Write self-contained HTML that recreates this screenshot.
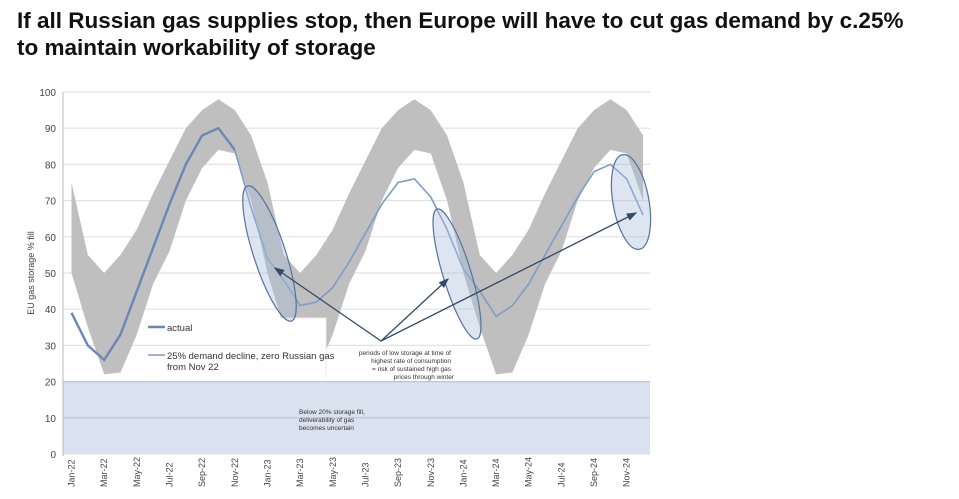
<!DOCTYPE html>
<html><head><meta charset="utf-8"><style>
body{margin:0;background:#fff;width:959px;height:499px;overflow:hidden;font-family:"Liberation Sans",sans-serif}
h1{position:absolute;left:17px;top:7px;margin:0;font-size:22.5px;line-height:27px;font-weight:bold;color:#111;white-space:nowrap}
svg{position:absolute;left:0;top:0}
</style></head><body>
<h1>If all Russian gas supplies stop, then Europe will have to cut gas demand by c.25%<br>to maintain workability of storage</h1>
<svg id="s" width="959" height="499" xmlns="http://www.w3.org/2000/svg" font-family="Liberation Sans, sans-serif"></svg>
<script>
const X=i=>71.5+16.33*i, Y=v=>454-3.62*v;
const up=[75,55,50,55,62,72,81,90,95,98,95,88];
const lo=[50,35,22,22.5,33,47,56,70,79,84,83,70];
let U=[],L=[];for(let i=0;i<36;i++){U.push(up[i%12]);L.push(lo[i%12]);}
const act=[39,30,26,33,45,57,69,80,88,90,84];
const sc=[84,68,54,48,41,42,46,53,61,69,75,76,71,62,51,45,38,41,47,55,63,71,78,80,76,66];
let h='';
h+=`<rect x="63" y="${Y(20)}" width="587" height="${Y(0)-Y(20)}" fill="#d9e2ee"/>`;
for(let v=0;v<=100;v+=10){h+=`<line x1="63" x2="650" y1="${Y(v)}" y2="${Y(v)}" stroke="${v==20||v==10?'#b8c6da':'#e2e2e2'}" stroke-width="1.2"/>`;
h+=`<text x="56" y="${Y(v)+4}" font-size="10" text-anchor="end" fill="#444">${v}</text>`;}
h+=`<line x1="63" x2="63" y1="92" y2="456" stroke="#bbb"/>`;
let p='M';for(let i=0;i<36;i++)p+=X(i)+','+Y(U[i])+' ';for(let i=35;i>=0;i--)p+=X(i)+','+Y(L[i])+' ';
h+=`<path d="${p}Z" fill="#bfbfbf"/>`;
h+=`<rect x="280" y="318" width="46" height="62" fill="#fff"/><path d="M280,318H326V378" fill="none" stroke="#eee"/>`;
h+=`<polyline fill="none" stroke="#7f9cc8" stroke-width="1.6" points="${sc.map((v,i)=>X(i+10)+','+Y(v)).join(' ')}"/>`;
h+=`<polyline fill="none" stroke="#6a87b5" stroke-width="2.4" points="${act.map((v,i)=>X(i)+','+Y(v)).join(' ')}"/>`;
const ell=(cx,cy,rx,ry,a)=>`<ellipse cx="${cx}" cy="${cy}" rx="${rx}" ry="${ry}" transform="rotate(${a} ${cx} ${cy})" fill="#a9bfdc" fill-opacity="0.4" stroke="#56729c" stroke-width="1.2"/>`;
h+=ell(269.5,253.5,16,71,-18)+ell(457,274,14,68,-17)+ell(631,202,18,48,-10);
h+=`<defs><marker id="m" markerWidth="8" markerHeight="8" refX="7" refY="4" orient="auto"><path d="M0,1L8,4L0,7Z" fill="#344a66"/></marker></defs>`;
[[275,268],[448,279],[636,213]].forEach(([x,y])=>h+=`<line x1="381" y1="341" x2="${x}" y2="${y}" stroke="#344a66" stroke-width="1.3" marker-end="url(#m)"/>`);
h+=`<line x1="148" x2="165" y1="327" y2="327" stroke="#6a87b5" stroke-width="2.4"/><text x="167" y="331" font-size="9.5" fill="#333">actual</text>`;
h+=`<line x1="148" x2="165" y1="355" y2="355" stroke="#7f9cc8" stroke-width="1.6"/><text x="167" y="359" font-size="9.5" fill="#333">25% demand decline, zero Russian gas</text><text x="167" y="370" font-size="9.5" fill="#333">from Nov 22</text>`;
[["periods of low storage at time of",451],["highest rate of consumption",451],["= risk of sustained high gas",451],["prices through winter",454]].forEach((t,i)=>h+=`<text x="${t[1]}" y="${355+i*8}" font-size="6.5" text-anchor="end" fill="#333">${t[0]}</text>`);
["Below 20% storage fill,","deliverability of gas","becomes uncertain"].forEach((t,i)=>h+=`<text x="299" y="${414+i*8}" font-size="6.5" fill="#333">${t}</text>`);
const mn=["Jan","Mar","May","Jul","Sep","Nov"];
for(let i=0;i<36;i+=2){const x=X(i)+3,lab=mn[(i%12)/2]+"-"+(22+Math.floor(i/12));h+=`<text transform="translate(${x},487) rotate(-90)" font-size="9" fill="#444">${lab}</text>`;}
h+=`<text transform="translate(34,273) rotate(-90)" font-size="9" text-anchor="middle" fill="#444">EU gas storage % fill</text>`;
document.getElementById('s').innerHTML=h;
</script>
</body></html>
